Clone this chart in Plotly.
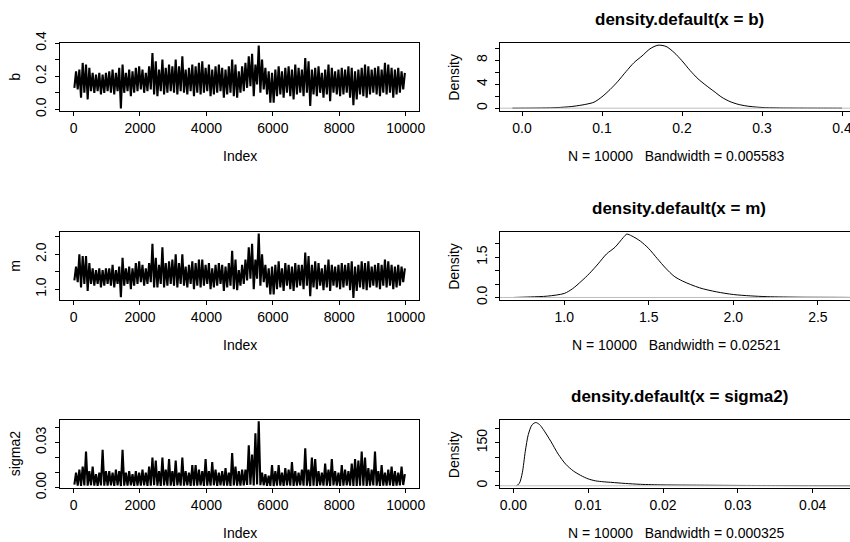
import plotly.graph_objects as go

# ---------------- data ----------------
# MCMC trace plots: per 100-iteration bin, the lowest and highest value seen
trace_bins = list(range(50, 10000, 100))

b_low = [0.13, 0.12, 0.07, 0.10, 0.06, 0.11, 0.10, 0.11, 0.09, 0.10,
         0.11, 0.10, 0.09, 0.11, 0.005, 0.10, 0.11, 0.08, 0.10, 0.11,
         0.12, 0.10, 0.11, 0.12, 0.09, 0.08, 0.11, 0.09, 0.10, 0.11,
         0.10, 0.09, 0.11, 0.10, 0.09, 0.11, 0.08, 0.10, 0.09, 0.10,
         0.11, 0.08, 0.09, 0.10, 0.11, 0.07, 0.09, 0.10, 0.08, 0.07,
         0.10, 0.11, 0.13, 0.14, 0.08, 0.15, 0.10, 0.12, 0.09, 0.04,
         0.04, 0.08, 0.09, 0.07, 0.10, 0.08, 0.06, 0.09, 0.10, 0.08,
         0.10, 0.02, 0.09, 0.08, 0.10, 0.07, 0.09, 0.05, 0.10, 0.09,
         0.08, 0.09, 0.10, 0.07, 0.025, 0.06, 0.09, 0.08, 0.07, 0.09,
         0.10, 0.09, 0.08, 0.10, 0.09, 0.10, 0.07, 0.09, 0.10, 0.12]
b_high = [0.23, 0.24, 0.28, 0.27, 0.25, 0.22, 0.21, 0.22, 0.21, 0.22,
          0.23, 0.24, 0.22, 0.25, 0.27, 0.22, 0.24, 0.23, 0.25, 0.26,
          0.24, 0.22, 0.26, 0.34, 0.29, 0.24, 0.30, 0.25, 0.27, 0.26,
          0.30, 0.26, 0.32, 0.24, 0.25, 0.27, 0.26, 0.28, 0.29, 0.25,
          0.27, 0.24, 0.26, 0.27, 0.25, 0.24, 0.26, 0.30, 0.27, 0.23,
          0.26, 0.28, 0.32, 0.335, 0.27, 0.385, 0.30, 0.25, 0.23, 0.22,
          0.24, 0.26, 0.23, 0.25, 0.26, 0.24, 0.27, 0.25, 0.24, 0.31,
          0.29, 0.24, 0.25, 0.26, 0.22, 0.24, 0.27, 0.25, 0.23, 0.24,
          0.25, 0.24, 0.26, 0.25, 0.23, 0.24, 0.25, 0.27, 0.26, 0.24,
          0.25, 0.26, 0.24, 0.28, 0.27, 0.25, 0.24, 0.25, 0.23, 0.22]

m_low = [1.25, 1.20, 1.05, 1.15, 0.95, 1.15, 1.10, 1.15, 1.05, 1.10,
         1.15, 1.10, 1.05, 1.15, 0.77, 1.10, 1.15, 1.00, 1.10, 1.15,
         1.20, 1.10, 1.15, 1.20, 1.05, 1.05, 1.15, 1.05, 1.10, 1.15,
         1.10, 1.05, 1.15, 1.10, 1.05, 1.15, 1.00, 1.10, 1.05, 1.10,
         1.15, 1.00, 1.05, 1.10, 1.15, 0.95, 1.05, 1.10, 1.00, 0.97,
         1.10, 1.15, 1.25, 1.30, 1.00, 1.30, 1.10, 1.20, 1.05, 0.85,
         0.85, 1.00, 1.05, 0.95, 1.10, 1.00, 0.95, 1.05, 1.10, 1.00,
         1.10, 0.80, 1.05, 1.00, 1.10, 0.97, 1.05, 0.95, 1.10, 1.05,
         1.00, 1.05, 1.10, 0.97, 0.75, 0.95, 1.05, 1.00, 0.97, 1.05,
         1.10, 1.05, 1.00, 1.10, 1.05, 1.10, 1.00, 1.05, 1.10, 1.20]
m_high = [1.65, 2.00, 1.95, 1.95, 1.75, 1.60, 1.55, 1.60, 1.55, 1.60,
          1.60, 1.70, 1.55, 1.65, 1.90, 1.60, 1.65, 1.60, 1.75, 1.80,
          1.70, 1.60, 1.75, 2.30, 1.90, 1.70, 2.20, 1.75, 1.80, 1.85,
          2.00, 1.75, 2.00, 1.65, 1.70, 1.80, 1.75, 1.85, 1.85, 1.70,
          1.75, 1.60, 1.70, 1.75, 1.70, 1.65, 1.75, 2.10, 1.85, 1.55,
          1.70, 1.85, 2.20, 2.30, 1.85, 2.60, 2.00, 1.70, 1.60, 1.65,
          1.70, 1.80, 1.60, 1.75, 1.70, 1.65, 1.75, 1.70, 1.70, 2.05,
          1.95, 1.70, 1.80, 1.75, 1.60, 1.70, 1.85, 1.70, 1.65, 1.70,
          1.75, 1.70, 1.75, 1.80, 1.65, 1.70, 1.80, 1.75, 1.80, 1.65,
          1.70, 1.75, 1.70, 1.85, 1.80, 1.70, 1.65, 1.70, 1.65, 1.60]

s2_low = [0.0020, 0.0014, 0.0012, 0.0015, 0.0013, 0.0016, 0.0014, 0.0012, 0.0015, 0.0013,
          0.0014, 0.0016, 0.0012, 0.0015, 0.0011, 0.0014, 0.0013, 0.0016, 0.0012, 0.0014,
          0.0013, 0.0015, 0.0012, 0.0014, 0.0016, 0.0013, 0.0012, 0.0015, 0.0014, 0.0013,
          0.0012, 0.0015, 0.0013, 0.0014, 0.0016, 0.0012, 0.0014, 0.0013, 0.0015, 0.0012,
          0.0014, 0.0013, 0.0016, 0.0012, 0.0015, 0.0013, 0.0014, 0.0012, 0.0015, 0.0014,
          0.0013, 0.0016, 0.0018, 0.0020, 0.0015, 0.0022, 0.0017, 0.0015, 0.0013, 0.0012,
          0.0011, 0.0014, 0.0013, 0.0012, 0.0015, 0.0013, 0.0012, 0.0014, 0.0015, 0.0013,
          0.0014, 0.0011, 0.0013, 0.0012, 0.0015, 0.0013, 0.0014, 0.0012, 0.0015, 0.0013,
          0.0012, 0.0014, 0.0015, 0.0013, 0.0011, 0.0012, 0.0014, 0.0013, 0.0012, 0.0014,
          0.0015, 0.0013, 0.0012, 0.0014, 0.0013, 0.0015, 0.0012, 0.0014, 0.0015, 0.0018]
s2_high = [0.010, 0.012, 0.014, 0.024, 0.011, 0.014, 0.009, 0.010, 0.025, 0.011,
           0.011, 0.010, 0.012, 0.011, 0.025, 0.010, 0.011, 0.009, 0.011, 0.010,
           0.012, 0.010, 0.014, 0.020, 0.018, 0.011, 0.020, 0.012, 0.019, 0.011,
           0.018, 0.010, 0.020, 0.011, 0.010, 0.015, 0.015, 0.012, 0.011, 0.019,
           0.011, 0.017, 0.012, 0.010, 0.011, 0.013, 0.010, 0.023, 0.014, 0.011,
           0.012, 0.012, 0.028, 0.022, 0.036, 0.044, 0.010, 0.009, 0.008, 0.015,
           0.011, 0.015, 0.010, 0.013, 0.012, 0.017, 0.011, 0.010, 0.012, 0.026,
           0.012, 0.020, 0.019, 0.011, 0.010, 0.016, 0.012, 0.019, 0.011, 0.010,
           0.015, 0.012, 0.011, 0.016, 0.019, 0.018, 0.024, 0.020, 0.013, 0.012,
           0.024, 0.011, 0.015, 0.010, 0.012, 0.014, 0.011, 0.010, 0.014, 0.009]

# Kernel density curves
b_dens_x = [-0.012, 0.0, 0.02, 0.04, 0.05, 0.06, 0.07, 0.08, 0.09, 0.10, 0.11, 0.12,
            0.13, 0.14, 0.15, 0.16, 0.17, 0.18, 0.19, 0.20, 0.21, 0.22, 0.23, 0.24,
            0.25, 0.26, 0.27, 0.28, 0.29, 0.30, 0.32, 0.35, 0.38, 0.40]
b_dens_y = [0.0, 0.01, 0.03, 0.08, 0.15, 0.25, 0.42, 0.65, 1.0, 1.9, 3.1, 4.5,
            6.1, 7.6, 8.7, 9.9, 10.5, 10.3, 9.3, 7.9, 6.3, 4.9, 3.8, 2.8,
            1.8, 1.1, 0.65, 0.38, 0.22, 0.12, 0.05, 0.02, 0.01, 0.0]

m_dens_x = [0.70, 0.80, 0.90, 1.00, 1.05, 1.10, 1.15, 1.20, 1.25, 1.30, 1.35, 1.37,
            1.40, 1.45, 1.50, 1.55, 1.60, 1.65, 1.70, 1.80, 1.90, 2.00, 2.10, 2.20,
            2.40, 2.60, 2.72]
m_dens_y = [0.0, 0.02, 0.05, 0.15, 0.33, 0.60, 0.90, 1.25, 1.62, 1.87, 2.24, 2.36,
            2.29, 2.10, 1.82, 1.45, 1.09, 0.79, 0.61, 0.36, 0.21, 0.11, 0.06, 0.03,
            0.01, 0.005, 0.0]

s2_dens_x = [0.0004, 0.0008, 0.0012, 0.0016, 0.0020, 0.0025, 0.0030, 0.0035, 0.0040,
             0.0050, 0.0060, 0.0070, 0.0080, 0.0090, 0.0100, 0.0110, 0.0120, 0.0130,
             0.0140, 0.0150, 0.0170, 0.0200, 0.0250, 0.0300, 0.0350, 0.0400, 0.0450]
s2_dens_y = [0.0, 8, 45, 120, 178, 212, 220, 213, 196,
             155, 110, 75, 52, 36, 24, 17, 14, 12,
             10, 8, 5, 3, 2, 1.2, 0.8, 0.5, 0.3]

# Axis ticks (R draws some ticks without labels)
trace_x_ticks = [0, 2000, 4000, 6000, 8000, 10000]
b_ticks, b_labels = [0.0, 0.1, 0.2, 0.3, 0.4], ["0.0", "", "0.2", "", "0.4"]
m_ticks, m_labels = [1.0, 1.5, 2.0, 2.5], ["1.0", "", "2.0", ""]
s2_ticks, s2_labels = [0.0, 0.01, 0.02, 0.03, 0.04], ["0.00", "", "", "0.03", ""]
bd_x_ticks, bd_x_labels = [0.0, 0.1, 0.2, 0.3, 0.4], ["0.0", "0.1", "0.2", "0.3", "0.4"]
bd_y_ticks, bd_y_labels = [0, 2, 4, 6, 8, 10], ["0", "", "4", "", "8", ""]
md_x_ticks, md_x_labels = [1.0, 1.5, 2.0, 2.5], ["1.0", "1.5", "2.0", "2.5"]
md_y_ticks, md_y_labels = [0.0, 0.5, 1.0, 1.5, 2.0], ["0.0", "", "", "1.5", ""]
sd_x_ticks, sd_x_labels = [0.0, 0.01, 0.02, 0.03, 0.04], ["0.00", "0.01", "0.02", "0.03", "0.04"]
sd_y_ticks, sd_y_labels = [0, 50, 100, 150, 200], ["0", "", "", "150", ""]

titles = ["density.default(x = b)", "density.default(x = m)", "density.default(x = sigma2)"]
subtitles = ["N = 10000\u00a0\u00a0 Bandwidth = 0.005583",
             "N = 10000\u00a0\u00a0 Bandwidth = 0.02521",
             "N = 10000\u00a0\u00a0 Bandwidth = 0.000325"]
trace_names = ["b", "m", "sigma2"]

# ---------------- layout geometry (pixels) ----------------
W, H = 850, 542
FONT = "Liberation Sans, Arial, Helvetica, sans-serif"
left_px = (60.3, 419.0)
right_px = (500.0, 850.0)
rows_px = [(42.7, 110.7), (231.7, 300.0), (420.0, 488.3)]


def xdom(p):
    return [p[0] / W, p[1] / W]


def ydom(r):
    return [1 - r[1] / H, 1 - r[0] / H]


def zigzag(bins, lo, hi):
    xs, ys = [], []
    for c, a, b in zip(bins, lo, hi):
        xs += [c - 25, c + 25]
        ys += [a, b]
    return xs, ys


fig = go.Figure()

trace_data = [(b_low, b_high), (m_low, m_high), (s2_low, s2_high)]
dens_data = [(b_dens_x, b_dens_y), (m_dens_x, m_dens_y), (s2_dens_x, s2_dens_y)]

for i in range(3):
    xs, ys = zigzag(trace_bins, *trace_data[i])
    fig.add_trace(go.Scatter(x=xs, y=ys, mode="lines", line=dict(color="black", width=2.1),
                             xaxis=f"x{2*i+1}", yaxis=f"y{2*i+1}", showlegend=False,
                             hoverinfo="skip"))
    dx, dy = dens_data[i]
    fig.add_trace(go.Scatter(x=dx, y=dy, mode="lines",
                             line=dict(color="black", width=1, shape="spline", smoothing=0.8),
                             xaxis=f"x{2*i+2}", yaxis=f"y{2*i+2}", showlegend=False,
                             hoverinfo="skip"))

axis_common = dict(showline=True, linecolor="black", linewidth=1, ticks="outside",
                   ticklen=4, tickwidth=1, tickcolor="black", showgrid=False,
                   zeroline=False, automargin=False, ticklabeloverflow="allow",
                   tickfont=dict(family=FONT, size=14, color="black"))

trace_y = [(b_ticks, b_labels, [-0.008, 0.402]),
           (m_ticks, m_labels, [0.69, 2.65]),
           (s2_ticks, s2_labels, [-0.0004, 0.0448])]
dens_x = [(bd_x_ticks, bd_x_labels, [-0.0275, 0.41]),
          (md_x_ticks, md_x_labels, [0.62, 2.69]),
          (sd_x_ticks, sd_x_labels, [-0.00178, 0.04498])]
dens_y = [(bd_y_ticks, bd_y_labels, [-0.42, 10.92]),
          (md_y_ticks, md_y_labels, [-0.094, 2.45]),
          (sd_y_ticks, sd_y_labels, [-8.8, 228.8])]

layout = dict(width=W, height=H, margin=dict(l=0, r=0, t=0, b=0, autoexpand=False),
              paper_bgcolor="white", plot_bgcolor="white", showlegend=False,
              font=dict(family=FONT, size=14, color="black"))

for i in range(3):
    n1, n2 = 2 * i + 1, 2 * i + 2
    layout[f"xaxis{n1}"] = dict(axis_common, domain=xdom(left_px), range=[-399, 10400],
                                tickvals=trace_x_ticks, ticktext=[str(v) for v in trace_x_ticks],
                                mirror=True, anchor=f"y{n1}")
    tv, tt, rg = trace_y[i]
    layout[f"yaxis{n1}"] = dict(axis_common, domain=ydom(rows_px[i]), range=rg,
                                tickvals=tv, ticktext=tt, tickangle=-90, mirror=True,
                                anchor=f"x{n1}", ticklabelstandoff=4)
    tv, tt, rg = dens_x[i]
    layout[f"xaxis{n2}"] = dict(axis_common, domain=xdom(right_px), range=rg,
                                tickvals=tv, ticktext=tt, mirror=True, anchor=f"y{n2}")
    tv, tt, rg = dens_y[i]
    layout[f"yaxis{n2}"] = dict(axis_common, domain=ydom(rows_px[i]), range=rg,
                                tickvals=tv, ticktext=tt, tickangle=-90, mirror=False,
                                anchor=f"x{n2}", ticklabelstandoff=2)

fig.update_layout(**layout)

annotations = []
shapes = []
for i in range(3):
    top, bot = rows_px[i]
    mid_y = 1 - (top + bot) / 2 / H
    # trace-plot labels
    annotations.append(dict(text="Index", x=(left_px[0] + left_px[1]) / 2 / W, y=1 - (bot + 45) / H,
                            xref="paper", yref="paper", showarrow=False,
                            xanchor="center", yanchor="middle", font=dict(size=14)))
    annotations.append(dict(text=trace_names[i], x=15 / W, y=mid_y, xref="paper", yref="paper",
                            showarrow=False, textangle=-90, xanchor="center", yanchor="middle",
                            font=dict(size=14)))
    # density labels
    annotations.append(dict(text=f"<b>{titles[i]}</b>", x=679 / W, y=1 - (top - 23.5) / H,
                            xref="paper", yref="paper", showarrow=False,
                            xanchor="center", yanchor="middle", font=dict(size=17)))
    annotations.append(dict(text=subtitles[i], x=676 / W, y=1 - (bot + 45) / H,
                            xref="paper", yref="paper", showarrow=False,
                            xanchor="center", yanchor="middle", font=dict(size=14)))
    annotations.append(dict(text="Density", x=454 / W, y=mid_y, xref="paper", yref="paper",
                            showarrow=False, textangle=-90, xanchor="center", yanchor="middle",
                            font=dict(size=14)))
    shapes.append(dict(type="line", xref=f"x{2*i+2} domain", x0=0, x1=1,
                       yref=f"y{2*i+2}", y0=0, y1=0, line=dict(color="#BEBEBE", width=1)))

fig.update_layout(annotations=annotations, shapes=shapes)
fig.write_html("out.html", config={"displayModeBar": False},
               post_script="document.body.style.margin='0';document.body.style.overflow='hidden';")
